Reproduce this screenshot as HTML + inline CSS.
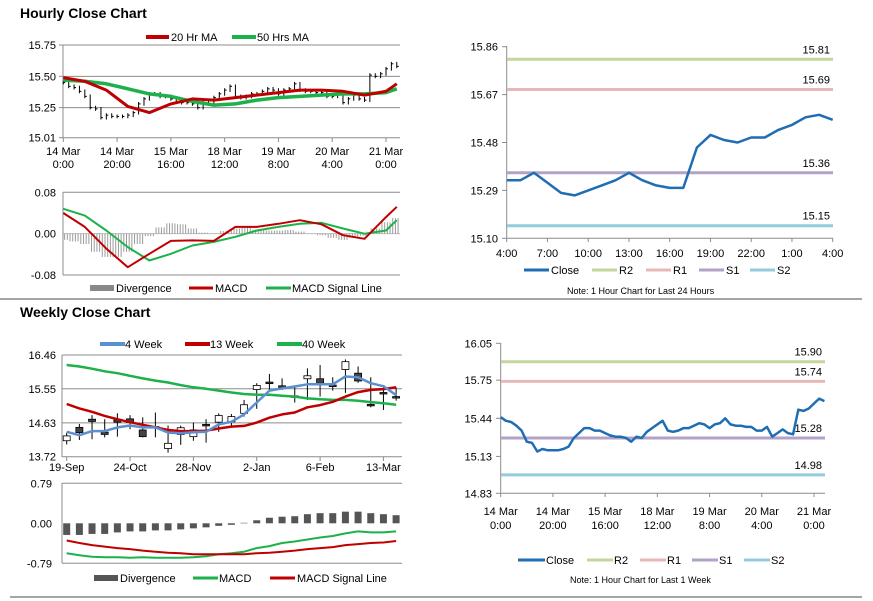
<!DOCTYPE html>
<html><head><meta charset="utf-8">
<style>
html,body{margin:0;padding:0;background:#fff;}
svg{display:block;font-family:"Liberation Sans",Arial,sans-serif;}
.t{font-size:11px;fill:#000;}
.n{font-size:9px;fill:#000;}
.h{font-size:14px;font-weight:bold;fill:#000;}
</style></head>
<body>
<svg id="root" width="873" height="601" viewBox="0 0 873 601">
 <line x1="0" y1="299" x2="862" y2="299" stroke="#888" stroke-width="1.5"/>
 <line x1="10" y1="597" x2="862" y2="597" stroke="#888" stroke-width="1.5"/>
 <text class="h" x="20" y="18">Hourly Close Chart</text>
 <text class="h" x="20" y="317">Weekly Close Chart</text>

 <g>
  <line x1="146" y1="37" x2="169" y2="37" stroke="#c00000" stroke-width="4"/>
  <text class="t" x="171" y="41">20 Hr MA</text>
  <line x1="232" y1="37" x2="256" y2="37" stroke="#1db14b" stroke-width="4"/>
  <text class="t" x="257" y="41">50 Hrs MA</text>
 </g>
 <g>
  <rect x="90" y="285" width="24" height="6" fill="#888"/>
  <text class="t" x="116" y="292">Divergence</text>
  <line x1="189" y1="288" x2="213" y2="288" stroke="#c00000" stroke-width="3"/>
  <text class="t" x="215" y="292">MACD</text>
  <line x1="266" y1="288" x2="291" y2="288" stroke="#1db14b" stroke-width="3"/>
  <text class="t" x="292" y="292">MACD Signal Line</text>
 </g>

 <g>
  <line x1="524" y1="270" x2="549" y2="270" stroke="#1f6db3" stroke-width="3"/>
  <text class="t" x="551" y="274">Close</text>
  <line x1="592" y1="270" x2="617" y2="270" stroke="#c3d69b" stroke-width="3"/>
  <text class="t" x="619" y="274">R2</text>
  <line x1="646" y1="270" x2="671" y2="270" stroke="#e6b9b8" stroke-width="3"/>
  <text class="t" x="673" y="274">R1</text>
  <line x1="699" y1="270" x2="724" y2="270" stroke="#b3a2c7" stroke-width="3"/>
  <text class="t" x="726" y="274">S1</text>
  <line x1="750" y1="270" x2="775" y2="270" stroke="#93cddd" stroke-width="3"/>
  <text class="t" x="777" y="274">S2</text>
  <text class="n" x="567" y="294">Note: 1 Hour Chart for Last 24 Hours</text>
 </g>

 <g>
  <line x1="100" y1="344" x2="125" y2="344" stroke="#5b8fd0" stroke-width="4"/>
  <text class="t" x="125" y="348">4 Week</text>
  <line x1="185" y1="344" x2="210" y2="344" stroke="#c00000" stroke-width="4"/>
  <text class="t" x="210" y="348">13 Week</text>
  <line x1="277" y1="344" x2="302" y2="344" stroke="#1db14b" stroke-width="4"/>
  <text class="t" x="302" y="348">40 Week</text>
 </g>
 <g>
  <rect x="94" y="575" width="24" height="6" fill="#555"/>
  <text class="t" x="120" y="582">Divergence</text>
  <line x1="193" y1="578" x2="218" y2="578" stroke="#1db14b" stroke-width="3"/>
  <text class="t" x="219" y="582">MACD</text>
  <line x1="270" y1="578" x2="295" y2="578" stroke="#c00000" stroke-width="3"/>
  <text class="t" x="297" y="582">MACD Signal Line</text>
 </g>

 <g>
  <line x1="518" y1="560" x2="545" y2="560" stroke="#1f6db3" stroke-width="3"/>
  <text class="t" x="546" y="564">Close</text>
  <line x1="587" y1="560" x2="613" y2="560" stroke="#c3d69b" stroke-width="3"/>
  <text class="t" x="614" y="564">R2</text>
  <line x1="640" y1="560" x2="666" y2="560" stroke="#e6b9b8" stroke-width="3"/>
  <text class="t" x="667" y="564">R1</text>
  <line x1="692" y1="560" x2="718" y2="560" stroke="#b3a2c7" stroke-width="3"/>
  <text class="t" x="719" y="564">S1</text>
  <line x1="744" y1="560" x2="770" y2="560" stroke="#93cddd" stroke-width="3"/>
  <text class="t" x="771" y="564">S2</text>
  <text class="n" x="570" y="583">Note: 1 Hour Chart for Last 1 Week</text>
 </g>
</svg>
<script>
var hourlyClose = [15.45,15.42,15.41,15.38,15.34,15.25,15.24,15.17,15.19,15.18,15.18,15.18,15.19,15.21,15.28,15.32,15.36,15.36,15.34,15.34,15.32,15.30,15.29,15.29,15.28,15.25,15.29,15.28,15.33,15.36,15.39,15.42,15.34,15.33,15.34,15.36,15.36,15.38,15.40,15.39,15.36,15.39,15.40,15.44,15.39,15.38,15.38,15.37,15.37,15.34,15.34,15.37,15.29,15.32,15.35,15.32,15.31,15.51,15.50,15.52,15.56,15.60,15.58];
var ma20 = [15.49,15.46,15.39,15.26,15.21,15.28,15.32,15.31,15.33,15.35,15.37,15.39,15.39,15.38,15.35,15.38,15.44];
var ma50 = [15.47,15.46,15.44,15.40,15.36,15.34,15.30,15.27,15.28,15.31,15.33,15.34,15.35,15.36,15.36,15.37,15.40];
var hMacd = [0.040,0.013,-0.029,-0.065,-0.039,-0.014,-0.013,-0.014,0.013,0.013,0.019,0.026,0.018,-0.003,-0.010,0.032,0.052];
var hSignal = [0.048,0.035,0.006,-0.026,-0.052,-0.039,-0.023,-0.016,-0.006,0.006,0.013,0.019,0.021,0.010,0.000,0.006,0.026];
var hDivergence = [-0.012,-0.015,-0.020,-0.035,-0.045,-0.045,-0.035,-0.020,-0.005,0.012,0.020,0.018,0.010,0.002,0.000,0.005,0.010,0.012,0.008,0.006,0.006,0.007,0.004,0.000,-0.003,-0.008,-0.012,-0.008,-0.004,0.010,0.022,0.030];
var hourLabels = [["14 Mar","0:00"],["14 Mar","20:00"],["15 Mar","16:00"],["18 Mar","12:00"],["19 Mar","8:00"],["20 Mar","4:00"],["21 Mar","0:00"]];

var dayClose = [15.33,15.33,15.36,15.32,15.28,15.27,15.29,15.31,15.33,15.36,15.33,15.31,15.30,15.30,15.46,15.51,15.49,15.48,15.50,15.50,15.53,15.55,15.58,15.59,15.57];
var dayLabels = ["4:00","7:00","10:00","13:00","16:00","19:00","22:00","1:00","4:00"];
var dayLevels = [15.81,15.69,15.36,15.15];
var dayTicks = ["15.86","15.67","15.48","15.29","15.10"];

var weekLabels = ["19-Sep","24-Oct","28-Nov","2-Jan","6-Feb","13-Mar"];
var wOpen  = [14.15,14.51,14.73,14.38,14.71,14.74,14.44,14.53,13.94,14.32,14.26,14.59,14.65,14.66,14.89,15.53,15.73,15.63,15.32,15.82,15.82,15.65,16.07,15.97,15.13,15.45,15.34];
var wClose = [14.28,14.37,14.67,14.32,14.65,14.64,14.26,14.52,14.08,14.50,14.44,14.56,14.83,14.80,15.12,15.64,15.70,15.61,15.36,15.90,15.70,15.64,16.28,15.76,15.09,15.43,15.32];
var wHigh  = [14.37,14.60,14.84,14.73,14.89,14.84,14.78,14.91,14.56,14.56,14.64,14.73,14.89,14.87,15.25,15.70,15.95,15.83,15.62,16.10,16.19,15.86,16.34,16.15,15.86,15.65,15.59];
var wLow   = [14.05,14.17,14.19,14.24,14.26,14.46,14.24,14.24,13.83,14.04,14.15,14.10,14.39,14.55,14.80,15.01,15.53,15.52,15.18,15.25,15.34,15.50,15.44,15.71,15.05,14.98,15.23];
var wk4  = [14.39,14.30,14.41,14.41,14.51,14.56,14.51,14.51,14.37,14.35,14.38,14.39,14.59,14.66,14.86,15.18,15.50,15.56,15.61,15.67,15.67,15.67,15.88,15.86,15.70,15.62,15.38];
var wk13 = [15.14,15.02,14.93,14.82,14.73,14.65,14.58,14.51,14.44,14.41,14.41,14.42,14.48,14.53,14.55,14.64,14.77,14.86,14.91,15.05,15.11,15.20,15.34,15.46,15.52,15.54,15.59];
var wk40 = [16.19,16.15,16.09,16.02,15.97,15.90,15.83,15.77,15.72,15.65,15.59,15.55,15.50,15.45,15.41,15.39,15.39,15.36,15.34,15.29,15.27,15.25,15.25,15.23,15.19,15.16,15.12];
var wDivergence = [-0.23,-0.23,-0.21,-0.21,-0.18,-0.16,-0.16,-0.14,-0.14,-0.12,-0.10,-0.08,-0.05,-0.03,0.01,0.06,0.11,0.13,0.14,0.18,0.20,0.20,0.23,0.23,0.20,0.18,0.16];
var wMacd = [-0.59,-0.63,-0.66,-0.67,-0.67,-0.68,-0.67,-0.68,-0.68,-0.68,-0.67,-0.65,-0.61,-0.59,-0.56,-0.49,-0.45,-0.39,-0.36,-0.32,-0.28,-0.25,-0.20,-0.16,-0.18,-0.18,-0.16];
var wSignal = [-0.34,-0.39,-0.43,-0.46,-0.49,-0.51,-0.54,-0.56,-0.58,-0.59,-0.61,-0.61,-0.61,-0.61,-0.61,-0.59,-0.58,-0.56,-0.54,-0.51,-0.49,-0.47,-0.43,-0.41,-0.39,-0.38,-0.35];

var weekLevels = [15.90,15.74,15.28,14.98];
var weekTicks = ["16.05","15.75","15.44","15.13","14.83"];

var NS = "http://www.w3.org/2000/svg";
var root = document.getElementById("root");
function mk(tag, attrs, name, parent) {
  var el = document.createElementNS(NS, tag);
  for (var k in attrs) el.setAttribute(k, attrs[k]);
  
  
  (parent || root).appendChild(el);
  return el;
}
function txt(x, y, s, anchor, name, cls) {
  var el = mk("text", {x: x, y: y, "text-anchor": anchor || "start", "class": cls || "t"}, name);
  el.textContent = s;
  return el;
}
function lin(scale) { return function(v){ return scale.r0 + (v - scale.d0) * (scale.r1 - scale.r0) / (scale.d1 - scale.d0); }; }
function poly(xs, ys, color, w, name) {
  var pts = [];
  for (var i = 0; i < xs.length; i++) pts.push(xs[i].toFixed(1) + "," + ys[i].toFixed(1));
  return mk("polyline", {points: pts.join(" "), fill: "none", stroke: color, "stroke-width": w, "stroke-linejoin": "round"}, name);
}
var GRID = "#8c8c8c";

(function(){
  var x = lin({d0:0, d1:120, r0:63.3, r1:386});
  var y = lin({d0:15.01, d1:15.75, r0:137.7, r1:45});
  var ticks = [15.75,15.50,15.25,15.01];
  for (var i = 0; i < ticks.length; i++) {
    mk("line", {x1:63, x2:400, y1:y(ticks[i]), y2:y(ticks[i]), stroke:GRID, "stroke-width":1}, "hourly-gridline");
    mk("line", {x1:59, x2:63, y1:y(ticks[i]), y2:y(ticks[i]), stroke:GRID}, "hourly-y-tick");
    txt(56, y(ticks[i]) + 4, ticks[i].toFixed(2), "end", "hourly-y-label");
  }
  mk("line", {x1:63, x2:63, y1:45, y2:138, stroke:GRID}, "hourly-y-axis");
  for (var i = 0; i < hourLabels.length; i++) {
    var xx = x(i * 20);
    mk("line", {x1:xx, x2:xx, y1:138, y2:142, stroke:GRID}, "hourly-x-tick");
    txt(xx, 155, hourLabels[i][0], "middle", "hourly-x-label");
    txt(xx, 168, hourLabels[i][1], "middle", "hourly-x-label");
  }
  for (var i = 0; i < hourlyClose.length; i++) {
    var prev = i > 0 ? hourlyClose[i-1] : hourlyClose[i];
    var hi = Math.max(prev, hourlyClose[i]) + 0.015, lo = Math.min(prev, hourlyClose[i]) - 0.015;
    var xx = x(i * 2);
    mk("line", {x1:xx, x2:xx, y1:y(hi), y2:y(lo), stroke:"#000", "stroke-width":1}, "hourly-candle");
    mk("line", {x1:xx, x2:xx + 2, y1:y(hourlyClose[i]), y2:y(hourlyClose[i]), stroke:"#000", "stroke-width":1}, "hourly-candle-close");
  }
  poly(ma50.map(function(v,i){return x(Math.min(i*8,124));}), ma50.map(y), "#1db14b", 3.5, "ma-50hr-line");
  poly(ma20.map(function(v,i){return x(Math.min(i*8,124));}), ma20.map(y), "#c00000", 3, "ma-20hr-line");

  var ym = lin({d0:-0.08, d1:0.08, r0:275, r1:192.3});
  var mt = [0.08,0.00,-0.08], ml = ["0.08","0.00","-0.08"];
  for (var i = 0; i < mt.length; i++) {
    mk("line", {x1:63, x2:400, y1:ym(mt[i]), y2:ym(mt[i]), stroke: i==1 ? "#bbb" : GRID}, "hourly-macd-gridline");
    txt(56, ym(mt[i]) + 4, ml[i], "end", "hourly-macd-y-label");
  }
  mk("line", {x1:63, x2:63, y1:192, y2:275, stroke:GRID}, "hourly-macd-y-axis");
  for (var i = 0; i < hDivergence.length; i++) {
    var v = hDivergence[i];
    var y0 = ym(0), y1 = ym(v);
    for (var k = -1.5; k <= 1.5; k += 1) {
      var xx = x(i * 4 + k);
      if (xx < 64 || xx > 400) continue;
      mk("line", {x1:xx, x2:xx, y1:y0, y2:y1, stroke:"#9a9a9a", "stroke-width":1}, "hourly-divergence-bar");
    }
  }
  poly(hSignal.map(function(v,i){return x(Math.min(i*8,124));}), hSignal.map(ym), "#1db14b", 2, "hourly-macd-signal-line");
  poly(hMacd.map(function(v,i){return x(Math.min(i*8,124));}), hMacd.map(ym), "#c00000", 2, "hourly-macd-line");
})();

(function(){
  var x = lin({d0:0, d1:24, r0:506.7, r1:832.7});
  var y = lin({d0:15.10, d1:15.86, r0:238.3, r1:46.7});
  mk("line", {x1:506.7, x2:506.7, y1:46, y2:238.3, stroke:GRID}, "day-y-axis");
  mk("line", {x1:506.7, x2:833, y1:238.3, y2:238.3, stroke:GRID}, "day-x-axis");
  for (var i = 0; i < dayTicks.length; i++) {
    var yy = y(parseFloat(dayTicks[i]));
    mk("line", {x1:502, x2:506.7, y1:yy, y2:yy, stroke:GRID}, "day-y-tick");
    txt(498, yy + 4, dayTicks[i], "end", "day-y-label");
  }
  for (var i = 0; i < dayLabels.length; i++) {
    var xx = x(i * 3);
    mk("line", {x1:xx, x2:xx, y1:238.3, y2:242, stroke:GRID}, "day-x-tick");
    txt(xx, 257, dayLabels[i], "middle", "day-x-label");
  }
  var cols = ["#c3d69b","#e6b9b8","#b3a2c7","#93cddd"], names = ["r2","r1","s1","s2"];
  for (var i = 0; i < dayLevels.length; i++) {
    mk("line", {x1:507, x2:833, y1:y(dayLevels[i]), y2:y(dayLevels[i]), stroke:cols[i], "stroke-width":3}, "day-level-" + names[i]);
    txt(830, y(dayLevels[i]) - 6, dayLevels[i].toFixed(2), "end", "day-level-label-" + names[i]);
  }
  poly(dayClose.map(function(v,i){return x(i);}), dayClose.map(y), "#1f6db3", 2.5, "day-close-line");
})();

(function(){
  var x = lin({d0:0, d1:26, r0:66.7, r1:396.1});
  var y = lin({d0:13.72, d1:16.46, r0:456.7, r1:355});
  var ticks = [16.46,15.55,14.63,13.72];
  for (var i = 0; i < ticks.length; i++) {
    mk("line", {x1:62, x2:402, y1:y(ticks[i]), y2:y(ticks[i]), stroke:GRID}, "weekly-gridline");
    txt(56, y(ticks[i]) + 4, ticks[i].toFixed(2), "end", "weekly-y-label");
  }
  mk("line", {x1:62, x2:62, y1:355, y2:457, stroke:GRID}, "weekly-y-axis");
  for (var i = 0; i < weekLabels.length; i++) {
    var xx = x(i * 5);
    mk("line", {x1:xx, x2:xx, y1:457, y2:461, stroke:GRID}, "weekly-x-tick");
    txt(xx, 471, weekLabels[i], "middle", "weekly-x-label");
  }
  for (var i = 0; i < wOpen.length; i++) {
    var xx = x(i), up = wClose[i] >= wOpen[i];
    mk("line", {x1:xx, x2:xx, y1:y(wHigh[i]), y2:y(wLow[i]), stroke:"#000", "stroke-width":1}, "weekly-candle-wick");
    var top = y(Math.max(wOpen[i], wClose[i])), bot = y(Math.min(wOpen[i], wClose[i]));
    mk("rect", {x:xx - 3.5, y:top, width:7, height:Math.max(bot - top, 1.5), fill: up ? "#fff" : "#444", stroke:"#000", "stroke-width":0.8}, "weekly-candle-body");
  }
  poly(wk40.map(function(v,i){return x(i);}), wk40.map(y), "#1db14b", 2.5, "ma-40wk-line");
  poly(wk13.map(function(v,i){return x(i);}), wk13.map(y), "#c00000", 2.5, "ma-13wk-line");
  poly(wk4.map(function(v,i){return x(i);}), wk4.map(y), "#5b8fd0", 2.5, "ma-4wk-line");

  var ym = lin({d0:-0.79, d1:0.79, r0:563.3, r1:483.3});
  var mt = [0.79,0.00,-0.79], ml = ["0.79","0.00","-0.79"];
  for (var i = 0; i < mt.length; i++) {
    if (i != 1) mk("line", {x1:62, x2:402, y1:ym(mt[i]), y2:ym(mt[i]), stroke:GRID}, "weekly-macd-gridline");
    txt(52, ym(mt[i]) + 4, ml[i], "end", "weekly-macd-y-label");
  }
  mk("line", {x1:62, x2:62, y1:483, y2:563, stroke:GRID}, "weekly-macd-y-axis");
  for (var i = 0; i < wDivergence.length; i++) {
    var y0 = ym(0), y1 = ym(wDivergence[i]);
    mk("rect", {x:x(i) - 3.5, y:Math.min(y0,y1), width:7, height:Math.abs(y1-y0), fill:"#555"}, "weekly-divergence-bar");
  }
  poly(wMacd.map(function(v,i){return x(i);}), wMacd.map(ym), "#1db14b", 2, "weekly-macd-line");
  poly(wSignal.map(function(v,i){return x(i);}), wSignal.map(ym), "#c00000", 2, "weekly-macd-signal-line");
})();

(function(){
  var x = lin({d0:0, d1:120, r0:500.7, r1:814});
  var y = lin({d0:14.83, d1:16.05, r0:493.3, r1:343.3});
  mk("line", {x1:500.7, x2:500.7, y1:343, y2:493.3, stroke:GRID}, "week-y-axis");
  mk("line", {x1:500.7, x2:825, y1:493.3, y2:493.3, stroke:GRID}, "week-x-axis");
  for (var i = 0; i < weekTicks.length; i++) {
    var yy = y(parseFloat(weekTicks[i]));
    mk("line", {x1:496, x2:500.7, y1:yy, y2:yy, stroke:GRID}, "week-y-tick");
    txt(492, yy + 4, weekTicks[i], "end", "week-y-label");
  }
  for (var i = 0; i < hourLabels.length; i++) {
    var xx = x(i * 20);
    mk("line", {x1:xx, x2:xx, y1:493.3, y2:497, stroke:GRID}, "week-x-tick");
    txt(xx, 515, hourLabels[i][0], "middle", "week-x-label");
    txt(xx, 529, hourLabels[i][1], "middle", "week-x-label");
  }
  var cols = ["#c3d69b","#e6b9b8","#b3a2c7","#93cddd"], names = ["r2","r1","s1","s2"];
  for (var i = 0; i < weekLevels.length; i++) {
    mk("line", {x1:501, x2:825, y1:y(weekLevels[i]), y2:y(weekLevels[i]), stroke:cols[i], "stroke-width":3}, "week-level-" + names[i]);
    txt(822, y(weekLevels[i]) - 6, weekLevels[i].toFixed(2), "end", "week-level-label-" + names[i]);
  }
  poly(hourlyClose.map(function(v,i){return x(i*2);}), hourlyClose.map(y), "#1f6db3", 2.5, "week-close-line");
})();
</script>
</body></html>
